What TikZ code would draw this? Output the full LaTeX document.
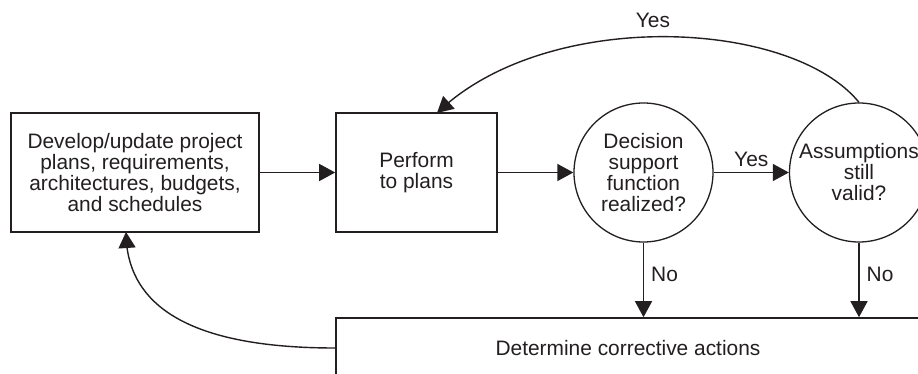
\documentclass[tikz,border=0pt]{standalone}
\usepackage{fontspec}
\setmainfont{Liberation Sans}
\usetikzlibrary{arrows.meta,bending}
\definecolor{ink}{HTML}{231F20}
\begin{document}
\begin{tikzpicture}[x=1pt,y=-1pt,
  every node/.style={font=\fontsize{20.9}{21}\selectfont, text=ink},
  box/.style={draw=ink, line width=1.6pt, rectangle, inner sep=0pt, align=center},
  dec/.style={draw=ink, line width=1.3pt, circle, inner sep=0pt, minimum size=139pt, align=center},
  conn/.style={draw=ink, line width=1.4pt, -{Triangle[length=16pt,width=17pt]}},
  lbl/.style={inner sep=0pt}]
\useasboundingbox (0,0) rectangle (918,374);
\clip (0,0) rectangle (918,374);
\fill[white] (0,0) rectangle (918,374);
\node[box, minimum width=248pt, minimum height=119pt] (dev) at (135,172.5) {Develop/update project\\plans, requirements,\\architectures, budgets,\\and schedules};
\node[box, minimum width=161pt, minimum height=119pt] (perf) at (416.5,172.5) {Perform\\to plans};
\node[dec] (dsf) at (643.5,172.5) {Decision\\support\\function\\realized?};
\node[dec] (asm) at (859,172.5) {Assumptions\\still\\valid?};
\node[box, minimum width=584pt, minimum height=60pt] (cor) at (628,348) {Determine corrective actions};
\coordinate (ptop) at (437,113);
\coordinate (dbot) at (126,232);
\draw[conn] (dev) -- (perf);
\draw[conn] (perf) -- (dsf);
\draw[conn] (dsf) -- node[lbl, above=5pt] (y1) {Yes} (asm);
\draw[conn] (dsf.south) -- node[lbl, right=7pt, pos=0.42] (n1) {No} (dsf.south |- cor.north);
\draw[conn] (asm.south) -- node[lbl, right=7pt, pos=0.42] (n2) {No} (asm.south |- cor.north);
\draw[conn] (asm.north) .. controls (790,18) and (545,8) .. (ptop);
\node[lbl] (y2) at (653,20) {Yes};
\draw[conn] (cor.west) .. controls (180,348) and (126,300) .. (dbot);
\end{tikzpicture}
\end{document}
